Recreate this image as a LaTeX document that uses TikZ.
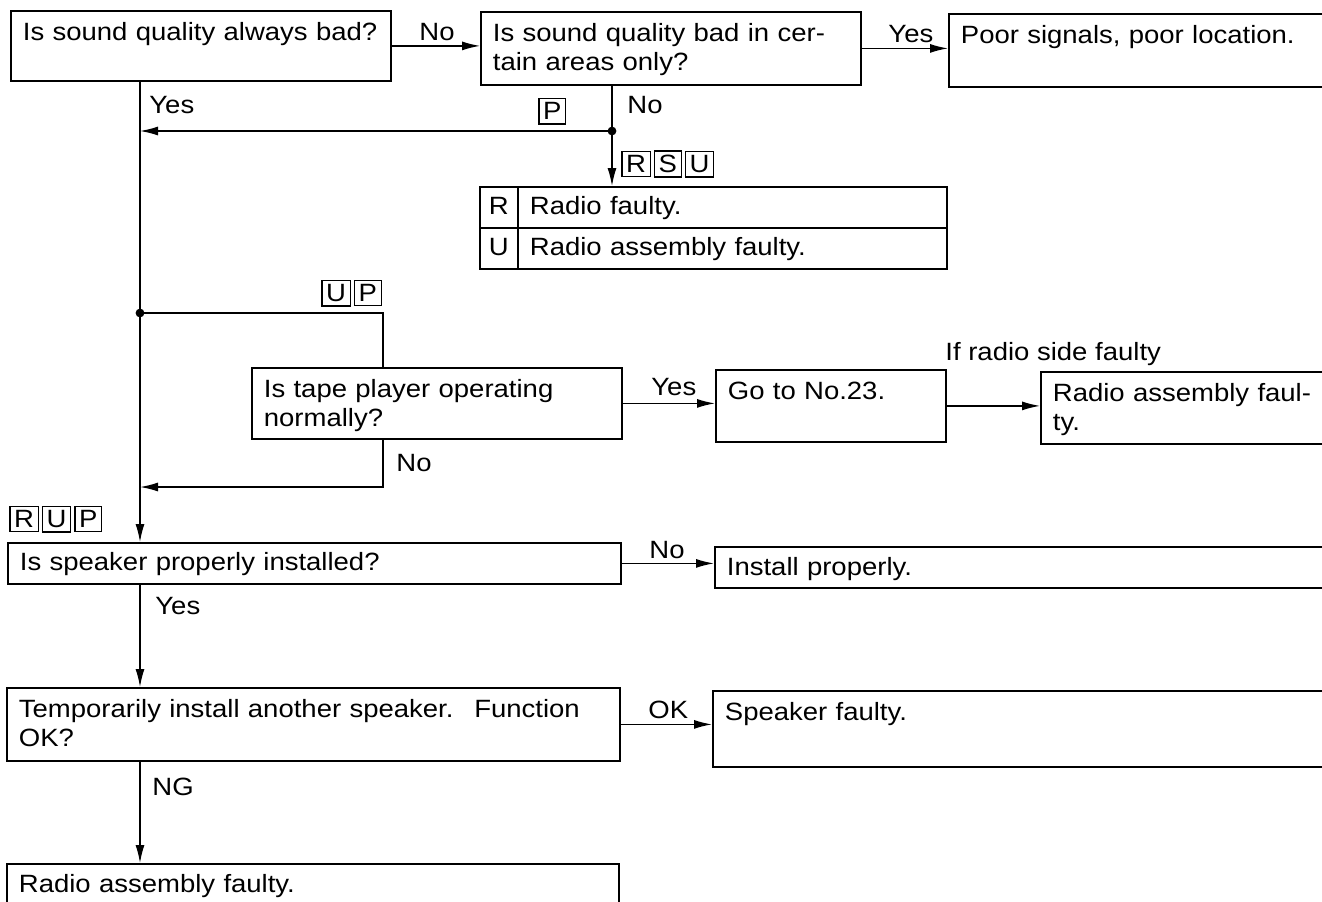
\documentclass[tikz,border=0pt]{standalone}
\usepackage{fontspec}
\setmainfont[FakeStretch=1.10]{Liberation Sans}
\usetikzlibrary{arrows.meta}
\newcommand{\keyb}[1]{{\setlength{\fboxsep}{1.8pt}\setlength{\fboxrule}{0.6pt}\fbox{#1}}}
\newcommand{\keygap}{\hspace{1.5pt}}
\tikzset{
  qbox/.style={draw, line width=0.9pt, anchor=north west, inner xsep=6pt, inner ysep=0pt, align=left, text height=15pt},
  cell/.style={draw, line width=0.9pt, anchor=north west, inner ysep=0pt, align=left, text height=14pt, text depth=6.5pt},
  lbl/.style={anchor=base west, inner sep=0pt},
  tags/.style={anchor=south west, inner sep=0pt},
  arr/.style={line width=0.7pt, -{Latex[length=9pt,width=4.5pt]}},
  wire/.style={line width=0.7pt}
}

\begin{document}
\begin{tikzpicture}[x=0.5pt,y=-0.5pt,font=\fontsize{12.5}{14.5}\selectfont]
\path[use as bounding box] (0,0) rectangle (1322,901);
\clip (0,0) rectangle (1322,901);
\node[qbox, text width=178pt, text depth=20pt] (q1) at (10,10) {Is sound quality always bad?};
\node[qbox, text width=178pt, text depth=21.5pt] (q2) at (480,11) {Is sound quality bad in cer-\\tain areas only?};
\node[qbox, text width=188pt, text depth=21.5pt] (poor) at (948,13) {Poor signals, poor location.};
\node[cell, minimum width=19pt, inner xsep=0pt, align=center] (rk) at (479,186) {R};
\node[cell, inner xsep=6pt, text width=202.5pt] (rf) at (517,186) {Radio faulty.};
\node[cell, minimum width=19pt, inner xsep=0pt, align=center] (uk) at (479,227) {U};
\node[cell, inner xsep=6pt, text width=202.5pt] (uf) at (517,227) {Radio assembly faulty.};
\node[qbox, text width=173pt, text depth=20.5pt] (tape) at (251,367) {Is tape player operating\\normally?};
\node[qbox, text width=103pt, text depth=21pt] (go) at (715,369) {Go to No.23.};
\node[qbox, text width=138pt, text depth=21pt] (ra) at (1040,371) {Radio assembly faul-\\ty.};
\node[qbox, text width=294.5pt, text height=14pt, text depth=6.5pt] (spk) at (7,542) {Is speaker properly installed?};
\node[qbox, text width=303pt, text height=14.5pt, text depth=6pt] (inst) at (714,546) {Install properly.};
\node[qbox, text width=294.5pt, text depth=21.5pt] (temp) at (6,687) {Temporarily install another speaker.~ Function\\OK?};
\node[qbox, text width=303pt, text depth=23pt] (sf) at (712,690) {Speaker faulty.};
\node[qbox, text width=294pt, text height=14.5pt, text depth=15.5pt] (rb) at (6,863) {Radio assembly faulty.};
\coordinate (j1) at (612,131);
\coordinate (j2) at (140,313);
\coordinate (j3) at (383,313);
\coordinate (j4) at (140,487);
\draw[arr] (q1.east) -- (q1.east -| q2.west);
\draw[arr] (q2.east) -- (q2.east -| poor.west);
\draw[wire] (q2.south -| j1) -- (j1);
\draw[arr] (j1) -- (j1 |- rf.north);
\draw[arr] (j1) -- (j1 -| j2);
\draw[arr] (q1.south -| j2) -- (j2 |- spk.north);
\draw[wire] (j2) -- (j3) -- (j3 |- tape.north);
\draw[arr] (j3 |- tape.south) |- (j4);
\draw[arr] (tape.east) -- (tape.east -| go.west);
\draw[arr] (go.east) -- (go.east -| ra.west);
\draw[arr] (spk.east) -- (spk.east -| inst.west);
\draw[arr] (spk.south -| j2) -- (j2 |- temp.north);
\draw[arr] (temp.east) -- (temp.east -| sf.west);
\draw[arr] (temp.south -| j2) -- (j2 |- rb.north);
\fill (j1) circle (2.2pt);
\fill (j2) circle (2.2pt);
\node[lbl] (l1) at (419,40) {No};
\node[lbl] (l2) at (888,42) {Yes};
\node[lbl] (l3) at (149,113) {Yes};
\node[lbl] (l4) at (627,113) {No};
\node[tags] (t1) at (538,125) {\keyb{P}};
\node[tags] (t2) at (621,178) {\keyb{R}\keygap\keyb{S}\keygap\keyb{U}};
\node[tags] (t3) at (321,307) {\keyb{U}\keygap\keyb{P}};
\node[lbl] (l5) at (651,395) {Yes};
\node[lbl] (l6) at (945,360) {If radio side faulty};
\node[lbl] (l7) at (396,471) {No};
\node[tags] (t4) at (9,533) {\keyb{R}\keygap\keyb{U}\keygap\keyb{P}};
\node[lbl] (l8) at (649,558) {No};
\node[lbl] (l9) at (155,614) {Yes};
\node[lbl] (l10) at (648,718) {OK};
\node[lbl] (l11) at (152,795) {NG};
\end{tikzpicture}
\end{document}
